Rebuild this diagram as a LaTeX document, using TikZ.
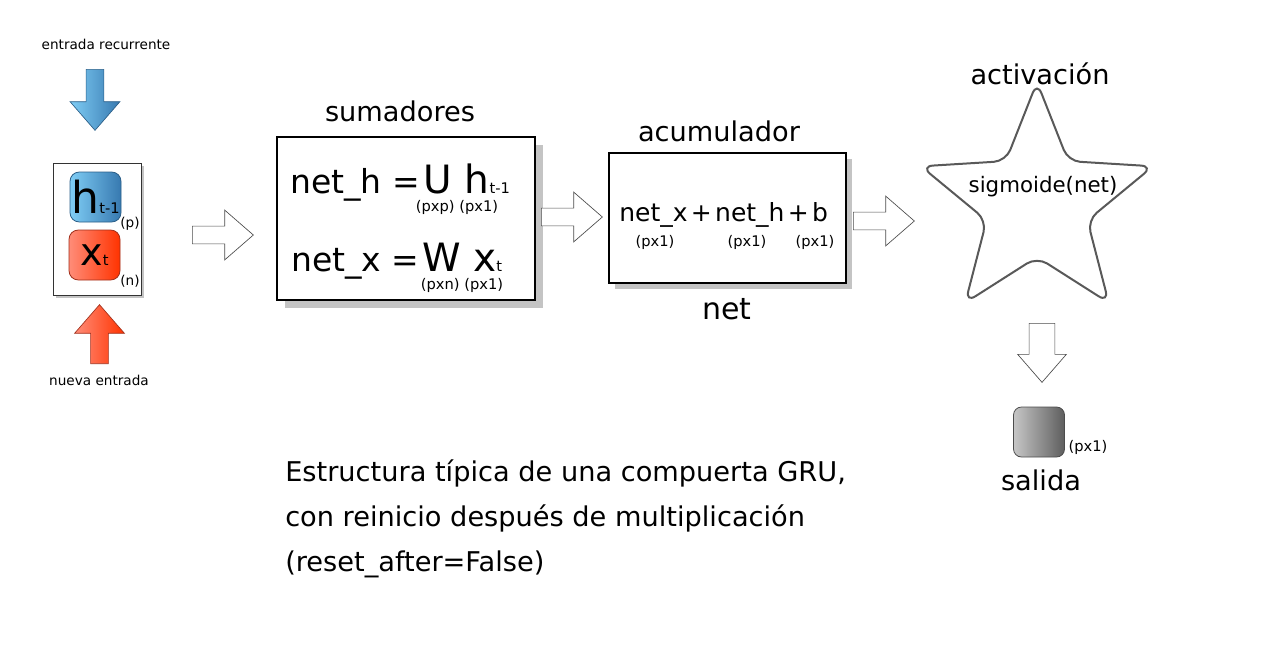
\documentclass[tikz,border=0pt]{standalone}
\usepackage{fontspec}
\setmainfont{DejaVu Sans}
\usetikzlibrary{shapes.arrows,shapes.geometric,shadows}

\definecolor{blueL}{HTML}{7FCDF5}
\definecolor{blueR}{HTML}{3779B0}
\definecolor{blueD}{HTML}{2C5F88}
\definecolor{redL}{HTML}{FF8C78}
\definecolor{redR}{HTML}{FF3300}
\definecolor{redD}{HTML}{A0301C}
\definecolor{grayL}{HTML}{C6C6C6}
\definecolor{grayR}{HTML}{5E5E5E}
\definecolor{shadowgray}{HTML}{C4C4C4}

\begin{document}
\begin{tikzpicture}[x=0.75pt,y=-0.75pt,
  title/.style={inner sep=0pt, font=\fontsize{20.4}{24}\selectfont},
  lbl/.style={inner sep=0pt, font=\fontsize{10.2}{12}\selectfont},
  dims/.style={inner sep=0pt, font=\fontsize{11}{13}\selectfont},
  barrow/.style={single arrow, draw=black!70, fill=white, line width=0.5pt,
    minimum height=45.75pt, inner sep=6.4pt, anchor=tail,
    single arrow head extend=12pt, single arrow tip angle=82},
  blk/.style={rounded corners=7pt, minimum width=38.25pt, minimum height=37.5pt, inner sep=0pt, line width=0.6pt},
  box/.style={draw, fill=white, inner sep=0pt,
    drop shadow={shadow xshift=#1, shadow yshift=-#1, fill=shadowgray, opacity=1}},
  box/.default=3pt]
\useasboundingbox (0,0) rectangle (1266,650);

%% entradas
\node[lbl] (recl) at (106,44) {entrada recurrente};
\node[barrow, rotate=270, left color=blueL, right color=blueR, draw=blueD] (recarr) at (95,69) {};
\node[box=2.25pt, draw=black!80, line width=0.7pt, minimum width=66pt, minimum height=99pt] (inp) at (97,229) {};
\node[blk, draw=blueD, left color=blueL, right color=blueR] (h) at (95.5,197)
  {\fontsize{33}{36}\selectfont h\fontsize{11}{13}\selectfont t-1};
\node[blk, draw=redD, left color=redL, right color=redR] (x) at (94.5,255)
  {\fontsize{28.5}{32}\selectfont x\fontsize{11}{13}\selectfont t};
\node[lbl] (pl) at (130,224) {(p)};
\node[lbl] (nl) at (130,281) {(n)};
\node[barrow, rotate=90, minimum height=44.25pt, left color=redL, right color=redR, draw=redD] (newarr) at (99.5,364) {};
\node[lbl] (newl) at (99,380) {nueva entrada};

\node[barrow] (a1) at (192,235) {};

%% sumadores
\node[title] (suml) at (400,111) {sumadores};
\node[box=6pt, line width=1.5pt, minimum width=193.5pt, minimum height=122.25pt] (sum) at (406,218.5) {};
\node[inner sep=0pt, text depth=0pt, anchor=base west] (rowh) at (290,193)
  {\fontsize{24.75}{28}\selectfont net\_h =\hspace{3pt}\fontsize{29.25}{32}\selectfont U h\fontsize{11}{13}\selectfont t-1};
\node[dims] (dimh) at (457,207) {(pxp) (px1)};
\node[inner sep=0pt, text depth=0pt, anchor=base west] (rowx) at (291,271)
  {\fontsize{24.75}{28}\selectfont net\_x =\hspace{2pt}\fontsize{29.25}{32}\selectfont W x\fontsize{11}{13}\selectfont t};
\node[dims] (dimx) at (462,285) {(pxn) (px1)};

\node[barrow] (a2) at (541,217) {};

%% acumulador
\node[title] (accl) at (719,131) {acumulador};
\node[box=4.5pt, line width=1.1pt, minimum width=177.75pt, minimum height=97.5pt] (acc) at (727.5,218) {};
\node[inner sep=0pt, anchor=base west, font=\fontsize{18.75}{22}\selectfont] (sumf) at (619,221)
  {net\_x\hspace{2.5pt}+\hspace{2.5pt}net\_h\hspace{2.5pt}+\hspace{2.5pt}b};
\foreach \x in {655,747,815} {
\node[dims] (px\x) at (\x,242) {(px1)};
}
\node[inner sep=0pt, font=\fontsize{22.5}{26}\selectfont] (net) at (727,309) {net};

\node[barrow] (a3) at (853,221) {};

%% activacion
\node[title] (actl) at (1040,74) {activación};
\node[star, star points=5, star point ratio=2.3, minimum size=183pt, inner sep=0pt,
  draw=black!65, line width=1.5pt, rounded corners=9pt] (act) at (1037,204) {};
\node[inner sep=0pt, font=\fontsize{16}{19}\selectfont] (sig) at (1043,187) {sigmoide(net)};

\node[barrow, rotate=270, minimum height=44.25pt, inner sep=9.4pt,
  single arrow head extend=8.6pt] (a4) at (1042,323) {};

%% salida
\node[blk, rounded corners=6pt, draw=black!70, left color=grayL, right color=grayR] (out) at (1039,432) {};
\node[dims] (outpx) at (1088,447) {(px1)};
\node[title] (outl) at (1041,480) {salida};

%% texto
\foreach \t [count=\i from 0] in {{Estructura típica de una compuerta GRU,},
  {con reinicio después de multiplicación}, {(reset\_after=False)}} {
\node[title, anchor=base west] (cap\i) at (285,481+45*\i) {\t};
}
\end{tikzpicture}
\end{document}
